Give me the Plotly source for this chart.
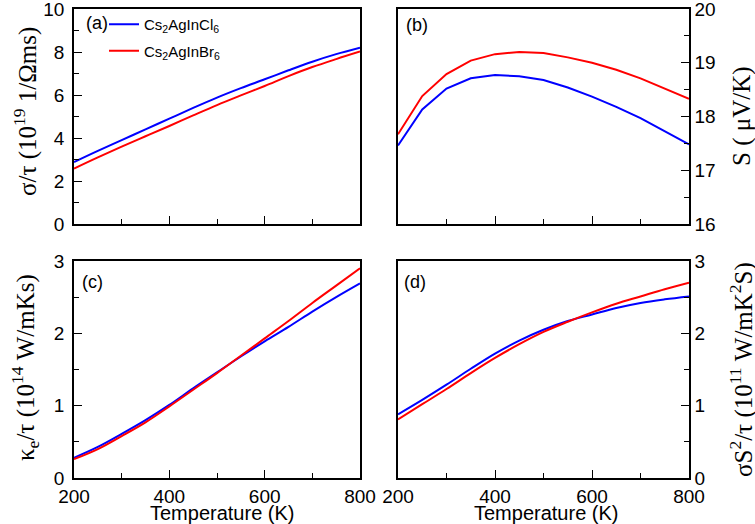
import plotly.graph_objects as go

temperature = [200, 250, 300, 350, 400, 450, 500, 550, 600, 650, 700, 750, 800]

sigma_cl = [2.88, 3.40, 3.90, 4.40, 4.90, 5.40, 5.88, 6.32, 6.73, 7.15, 7.55, 7.90, 8.20]
sigma_br = [2.58, 3.10, 3.60, 4.08, 4.56, 5.05, 5.53, 5.98, 6.42, 6.88, 7.30, 7.67, 8.02]

seebeck_cl = [17.46, 18.13, 18.52, 18.71, 18.77, 18.75, 18.68, 18.54, 18.37, 18.18, 17.97, 17.72, 17.48]
seebeck_br = [17.67, 18.38, 18.79, 19.04, 19.16, 19.20, 19.18, 19.10, 19.00, 18.87, 18.71, 18.52, 18.33]

kappa_cl = [0.28, 0.43, 0.61, 0.80, 1.01, 1.24, 1.46, 1.68, 1.89, 2.09, 2.30, 2.50, 2.69]
kappa_br = [0.26, 0.40, 0.58, 0.77, 0.99, 1.22, 1.45, 1.69, 1.93, 2.17, 2.42, 2.66, 2.90]

pf_cl = [0.88, 1.08, 1.29, 1.51, 1.72, 1.90, 2.05, 2.17, 2.26, 2.35, 2.42, 2.47, 2.51]
pf_br = [0.81, 1.02, 1.23, 1.45, 1.66, 1.85, 2.02, 2.16, 2.29, 2.41, 2.51, 2.61, 2.70]

name_cl = "Cs<sub>2</sub>AgInCl<sub>6</sub>"
name_br = "Cs<sub>2</sub>AgInBr<sub>6</sub>"
BLUE = "#0000ff"
RED = "#ff0000"

W, H = 755, 524
def px(x):
    return x / W
def py(y):
    return 1 - y / H

fig = go.Figure()

panels = [
    ("", "", sigma_cl, sigma_br, "spline", True),
    ("2", "2", seebeck_cl, seebeck_br, "linear", False),
    ("3", "3", kappa_cl, kappa_br, "spline", False),
    ("4", "4", pf_cl, pf_br, "spline", False),
]
for xs, ys, cl, br, shape, show in panels:
    fig.add_trace(go.Scatter(x=temperature, y=cl, mode="lines", name=name_cl, legendgroup="cl",
                             line=dict(color=BLUE, width=2, shape=shape),
                             xaxis="x" + xs, yaxis="y" + ys, showlegend=show))
    fig.add_trace(go.Scatter(x=temperature, y=br, mode="lines", name=name_br, legendgroup="br",
                             line=dict(color=RED, width=2, shape=shape),
                             xaxis="x" + xs, yaxis="y" + ys, showlegend=show))

tickfont = dict(family="Liberation Sans, Arial", size=19, color="black")

def xax(domain, anchor, labels):
    return dict(domain=domain, anchor=anchor, range=[200, 800],
                tickvals=[200, 400, 600, 800], ticks="inside", ticklen=8, tickwidth=1.3,
                tickcolor="black", showticklabels=labels, tickfont=tickfont,
                ticklabeloverflow="allow",
                minor=dict(tickvals=[300, 500, 700], ticks="inside", ticklen=5, tickwidth=1.3, tickcolor="black"),
                showline=True, linecolor="black", linewidth=1.5, mirror=True,
                showgrid=False, zeroline=False, automargin=False)

def yax(domain, anchor, rng, ticks, minors, side):
    return dict(domain=domain, anchor=anchor, range=rng, side=side,
                tickvals=ticks, ticks="inside", ticklen=8, tickwidth=1.3, tickcolor="black",
                tickfont=tickfont, ticklabeloverflow="allow",
                ticklabelstandoff=4 if side == "left" else 0,
                minor=dict(tickvals=minors, ticks="inside", ticklen=5, tickwidth=1.3, tickcolor="black"),
                showline=True, linecolor="black", linewidth=1.5, mirror=True,
                showgrid=False, zeroline=False, automargin=False)

xl = [px(74), px(360)]
xr = [px(398), px(689)]
yt = [py(224), py(9)]
yb = [py(478), py(261)]

fig.update_layout(
    width=W, height=H, margin=dict(l=0, r=0, t=0, b=0),
    paper_bgcolor="white", plot_bgcolor="white",
    xaxis=xax(xl, "y", False),
    yaxis=yax(yt, "x", [0, 10], [0, 2, 4, 6, 8, 10], [1, 3, 5, 7, 9], "left"),
    xaxis2=xax(xr, "y2", False),
    yaxis2=yax(yt, "x2", [16, 20], [16, 17, 18, 19, 20], [16.5, 17.5, 18.5, 19.5], "right"),
    xaxis3=xax(xl, "y3", True),
    yaxis3=yax(yb, "x3", [0, 3], [0, 1, 2, 3], [0.5, 1.5, 2.5], "left"),
    xaxis4=xax(xr, "y4", True),
    yaxis4=yax(yb, "x4", [0, 3], [0, 1, 2, 3], [0.5, 1.5, 2.5], "right"),
    legend=dict(x=px(104), y=py(8), xanchor="left", yanchor="top",
                bgcolor="rgba(0,0,0,0)", font=dict(family="Liberation Sans, Arial", size=15, color="black"),
                itemwidth=30, tracegroupgap=4),
    showlegend=True,
)

serif = dict(family="Liberation Serif, Times New Roman", size=25, color="black")
sans = dict(family="Liberation Sans, Arial", size=20, color="black")
lab = dict(family="Liberation Sans, Arial", size=18, color="black")
anns = [
    dict(text="σ/τ (10<sup>19</sup> 1/Ωms)", x=px(25), y=py(112), textangle=-90, font=serif),
    dict(text="S ( μV/K)", x=px(742), y=py(116), textangle=-90, font=serif),
    dict(text="κ<sub>e</sub>/τ (10<sup>14</sup> W/mKs)", x=px(25), y=py(368), textangle=-90, font=serif),
    dict(text="σS<sup>2</sup>/τ (10<sup>11</sup> W/mK<sup>2</sup>S)", x=px(741), y=py(370), textangle=-90, font=serif),
    dict(text="Temperature (K)", x=px(223), y=py(513), font=sans),
    dict(text="Temperature (K)", x=px(546), y=py(513), font=sans),
    dict(text="(a)", x=px(97), y=py(23), font=lab),
    dict(text="(b)", x=px(417), y=py(25), font=lab),
    dict(text="(c)", x=px(92), y=py(282), font=lab),
    dict(text="(d)", x=px(415), y=py(282), font=lab),
]
for a in anns:
    a.update(xref="paper", yref="paper", showarrow=False, xanchor="center", yanchor="middle")
fig.update_layout(annotations=anns)

fig.write_html("out.html", config={"displayModeBar": False})

with open("out.html", "r", encoding="utf-8") as f:
    html = f.read()
html = html.replace("<head>", "<head><style>html,body{margin:0;padding:0;overflow:hidden;}</style>", 1)
with open("out.html", "w", encoding="utf-8") as f:
    f.write(html)
